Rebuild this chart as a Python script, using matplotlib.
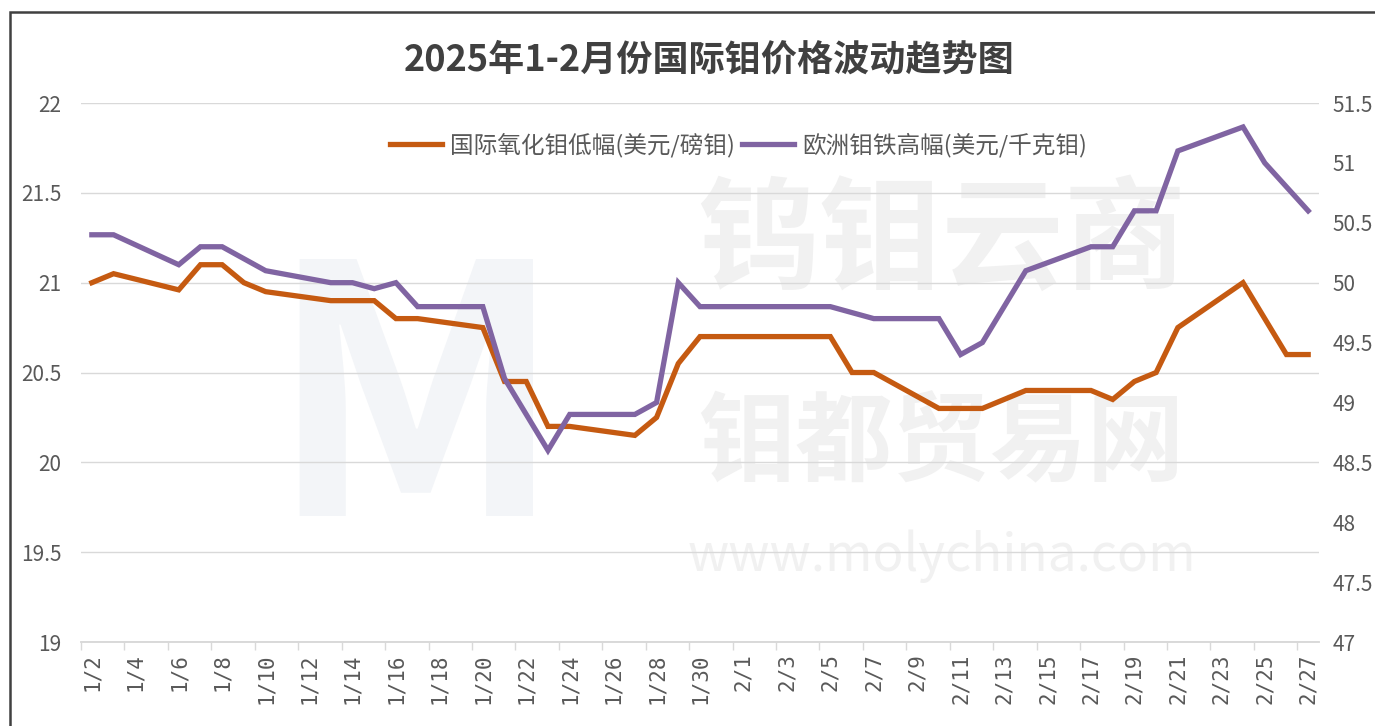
import numpy as np
import pandas as pd
import matplotlib
matplotlib.use("Agg")
from matplotlib import pyplot as plt
from matplotlib.patches import Rectangle

plt.rcParams['font.family'] = ['Noto Sans CJK SC', 'DejaVu Sans']

# data
title = "2025年1-2月份国际钼价格波动趋势图"
name_oxide = "国际氧化钼低幅(美元/磅钼)"
name_feMo = "欧洲钼铁高幅(美元/千克钼)"

trade_days = ["1/2", "1/3", "1/6", "1/7", "1/8", "1/9", "1/10", "1/13", "1/14", "1/15",
              "1/16", "1/17", "1/20", "1/21", "1/22", "1/23", "1/24", "1/27", "1/28", "1/29",
              "1/30", "1/31", "2/3", "2/4", "2/5", "2/6", "2/7", "2/10", "2/11", "2/12",
              "2/13", "2/14", "2/17", "2/18", "2/19", "2/20", "2/21", "2/24", "2/25", "2/26",
              "2/27"]
oxide = [21.0, 21.05, 20.96, 21.1, 21.1, 21.0, 20.95, 20.9, 20.9, 20.9,
         20.8, 20.8, 20.75, 20.45, 20.45, 20.2, 20.2, 20.15, 20.25, 20.55,
         20.7, 20.7, 20.7, 20.7, 20.7, 20.5, 20.5, 20.3, 20.3, 20.3,
         20.35, 20.4, 20.4, 20.35, 20.45, 20.5, 20.75, 21.0, 20.8, 20.6,
         20.6]
feMo = [50.4, 50.4, 50.15, 50.3, 50.3, 50.2, 50.1, 50.0, 50.0, 49.95,
        50.0, 49.8, 49.8, 49.2, 48.9, 48.6, 48.9, 48.9, 49.0, 50.0,
        49.8, 49.8, 49.8, 49.8, 49.8, 49.75, 49.7, 49.7, 49.4, 49.5,
        49.8, 50.1, 50.3, 50.3, 50.6, 50.6, 51.1, 51.3, 51.0, 50.8,
        50.6]

# calendar axis: every day from 1/2 to 2/27
calendar = pd.date_range("2025-01-02", "2025-02-27")
cal_labels = [f"{d.month}/{d.day}" for d in calendar]
xpos = [cal_labels.index(d) for d in trade_days]

c_orange = "#C55A11"
c_purple = "#8064A2"
c_text = "#595959"
c_grid = "#D9D9D9"

fig = plt.figure(figsize=(13.75, 7.26), dpi=100)
ax = fig.add_axes([0.0589, 0.1157, 0.9004, 0.7424])
ax2 = ax.twinx()

# frame around the chart
fig.patches.append(Rectangle((10 / 1375, -0.05), 1.2, 1 - 12 / 726 + 0.05,
                             transform=fig.transFigure, fill=False,
                             edgecolor="#404040", linewidth=1.8))

# watermark
ax.text(0.695, 0.74, "钨钼云商", transform=ax.transAxes, fontsize=88, fontweight="bold",
        color="#F1F1F1", ha="center", va="center", zorder=0.2)
ax.text(0.695, 0.365, "钼都贸易网", transform=ax.transAxes, fontsize=70, fontweight="bold",
        color="#F1F1F1", ha="center", va="center", zorder=0.2)
ax.text(0.695, 0.16, "www.molychina.com", transform=ax.transAxes, fontsize=37,
        color="#F1F1F1", ha="center", va="center", zorder=0.2)
ax.text(0.27, 0.42, "M", transform=ax.transAxes, fontsize=250, fontweight="bold",
        color="#F3F5F8", ha="center", va="center", zorder=0.1)

ax.plot(xpos, oxide, color=c_orange, lw=3.8, solid_joinstyle="miter", zorder=3)
ax2.plot(xpos, feMo, color=c_purple, lw=3.8, solid_joinstyle="miter", zorder=3)

ax.set_xlim(-0.5, len(calendar) - 0.5)
ax.set_ylim(19, 22)
ax2.set_ylim(47, 51.5)
ax.set_yticks(np.arange(19, 22.01, 0.5))
ax2.set_yticks(np.arange(47, 51.51, 0.5))
ax.set_yticklabels([f"{v:g}" for v in np.arange(19, 22.01, 0.5)])
ax2.set_yticklabels([f"{v:g}" for v in np.arange(47, 51.51, 0.5)])
ax.grid(axis="y", color=c_grid, lw=1.0)
ax.set_axisbelow(True)

ax.set_xticks(range(0, len(calendar), 2))
ax.set_xticklabels(cal_labels[::2], rotation=90, family="DejaVu Sans Mono",
                   fontsize=15, color=c_text)
ax.set_xticks(np.arange(-0.5, len(calendar), 2), minor=True)
ax.tick_params(axis="x", which="major", length=0, pad=8)
ax.tick_params(axis="x", which="minor", length=6, color=c_grid, width=1)
ax.tick_params(axis="y", length=0, labelsize=15, labelcolor=c_text, pad=14)
ax2.tick_params(axis="y", length=0, labelsize=15, labelcolor=c_text, pad=10)

for a in (ax, ax2):
    for s in ("left", "right", "top"):
        a.spines[s].set_visible(False)
    a.spines["bottom"].set_color(c_grid)
    a.spines["bottom"].set_linewidth(1.2)

h1 = ax.get_lines()[0]
h2 = ax2.get_lines()[0]
ax2.legend([h1, h2], [name_oxide, name_feMo], loc="center", bbox_to_anchor=(0.531, 0.922),
           ncol=2, frameon=False, fontsize=17, labelcolor=c_text, handlelength=2.2,
           handletextpad=0.35, columnspacing=0.3)

fig.text(0.516, 0.917, title, ha="center", va="center", fontsize=26,
         fontweight="bold", color="#404040")

fig.savefig("out.png", dpi=100)
